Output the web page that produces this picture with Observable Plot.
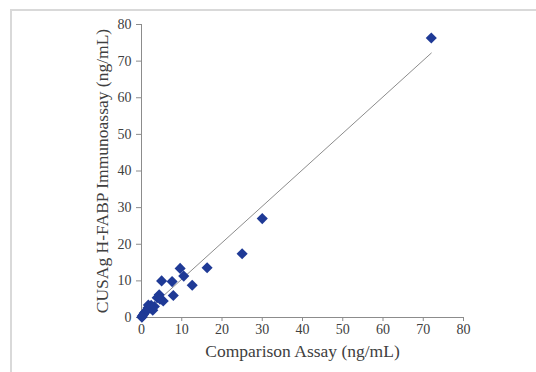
<!DOCTYPE html>
<html>
<head>
<meta charset="utf-8">
<script src="https://cdn.jsdelivr.net/npm/d3@7"></script>
<script src="https://cdn.jsdelivr.net/npm/@observablehq/plot@0.6"></script>
<style>
  html, body { margin: 0; padding: 0; background: #fff; overflow: hidden; }
  #wrap { position: relative; width: 536px; height: 372px; }
  #frame { position: absolute; left: 10px; top: 9px; width: 600px; height: 500px;
           border-top: 2px solid #d9d9d9; border-left: 2px solid #d9d9d9; pointer-events: none; }
</style>
</head>
<body>
<div id="wrap"><div id="frame"></div></div>
<script>
// Comparison assay (x) vs CUSAg H-FABP immunoassay (y), ng/mL
const comparison = [72, 30, 25, 16.3, 9.6, 10.5, 12.6, 5.0, 7.6, 7.9, 4.4, 3.9, 5.4, 4.6, 2.8, 2.4, 1.7, 1.6, 2.2, 1.0, 0.7, 0.5, 0.2, 0.1, 3.2];
const immuno     = [76.3, 27, 17.4, 13.6, 13.4, 11.3, 8.8, 10.0, 9.8, 6.0, 6.2, 5.4, 4.5, 5.0, 2.0, 3.3, 3.4, 2.6, 2.6, 1.6, 1.2, 0.8, 0.4, 0.1, 3.0];
// linear trend line endpoints
const trendX = [0, 72];
const trendY = [0.5, 72.2];
const ticks = [0, 10, 20, 30, 40, 50, 60, 70, 80];

const points = comparison.map((x, i) => ({x, y: immuno[i]}));
const trend = trendX.map((x, i) => ({x, y: trendY[i]}));

const axisColor = "#8c8c8c";
const textColor = "#404040";
const serif = "'Liberation Serif', 'Times New Roman', serif";

const chart = Plot.plot({
  width: 536,
  height: 372,
  marginLeft: 141,
  marginRight: 73,
  marginTop: 24,
  marginBottom: 55,
  style: {background: "transparent", fontFamily: serif, fontSize: "14px", color: textColor, overflow: "visible"},
  x: {domain: [0, 80]},
  y: {domain: [0, 80]},
  marks: [
    Plot.axisX({ticks, tickSize: 4, tickPadding: 3, stroke: axisColor, fill: textColor, fontSize: 14,
      label: "Comparison Assay (ng/mL)", labelAnchor: "center", labelArrow: false, labelOffset: 39}),
    Plot.axisY({ticks, tickSize: 5, tickPadding: 5, stroke: axisColor, fill: textColor, fontSize: 14,
      label: "CUSAg H-FABP Immunoassay (ng/mL)", labelAnchor: "center", labelArrow: false, labelOffset: 46}),
    Plot.ruleX([0], {stroke: axisColor}),
    Plot.ruleY([0], {stroke: axisColor}),
    Plot.line(trend, {x: "x", y: "y", stroke: "#8c8c8c", strokeWidth: 1}),
    Plot.dot(points, {x: "x", y: "y", symbol: "diamond2", r: 5, fill: "#1f3a96", stroke: "none"})
  ]
});
chart.style.position = "absolute";
chart.style.left = "0px";
chart.style.top = "0px";
document.getElementById("wrap").appendChild(chart);
chart.querySelectorAll("text").forEach(t => t.setAttribute("font-family", "Liberation Serif"));
chart.querySelectorAll("[aria-label='x-axis label'], [aria-label='y-axis label']").forEach(g => g.setAttribute("font-size", "17.5"));
chart.querySelectorAll("[aria-label='x-axis label'] text, [aria-label='y-axis label'] text").forEach(t => t.setAttribute("font-size", "17.5"));
</script>
</body>
</html>
